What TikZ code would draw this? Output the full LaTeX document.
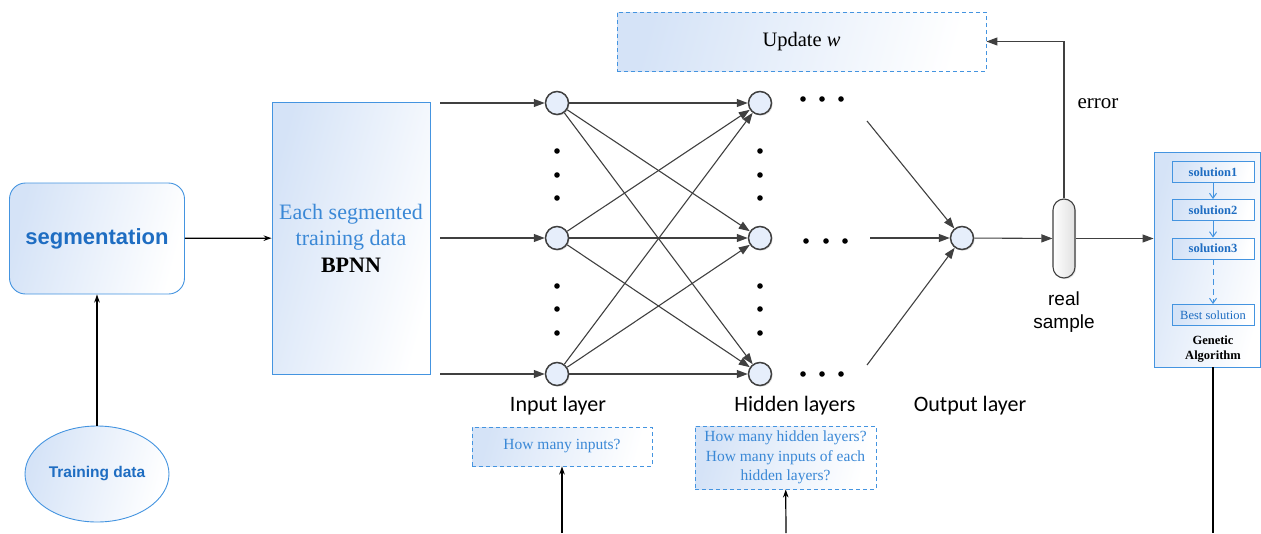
\documentclass[tikz,border=0pt]{standalone}
\usepackage{fontspec}
\setmainfont{Liberation Serif}
\newfontfamily\arialf{Liberation Sans}
\newfontfamily\calibrif{Carlito}
\usetikzlibrary{arrows.meta,shapes.geometric,shadows}
\definecolor{bborder}{HTML}{4494E0}
\definecolor{btext}{HTML}{1E6DC2}
\definecolor{btextl}{HTML}{3A88D6}
\definecolor{bfill}{HTML}{D5E3F7}
\definecolor{cfill}{HTML}{E6EEFB}
\definecolor{netc}{HTML}{404040}
\begin{document}
\begin{tikzpicture}[x=1pt,y=-1pt,
  bshade/.style={left color=bfill, middle color=white!70!bfill, right color=white, shading angle=75},
  bluebox/.style={draw=bborder, line width=0.9pt, bshade, inner sep=2pt},
  qbox/.style={bluebox, dashed, dash pattern=on 4pt off 3pt},
  neuron/.style={circle, draw=netc, line width=1.5pt, fill=cfill, minimum size=23pt, inner sep=0pt,
     drop shadow={shadow xshift=1.2pt, shadow yshift=-1.2pt, opacity=0.25}},
  net/.style={draw=netc, line width=1.1pt, -{Triangle[length=11pt,width=8pt]}},
  blk/.style={draw=black, line width=1.2pt, -{Stealth[length=8pt,width=5.5pt]}},
  sol/.style={draw=bborder, line width=0.9pt, bshade, minimum width=82pt, minimum height=21pt, inner sep=1pt,
     text=btext, font=\fontsize{12.5}{14}\selectfont\bfseries},
  solarr/.style={draw=bborder, line width=1pt, -{Straight Barb[length=5pt,width=7pt]}},
  layerlab/.style={font=\calibrif\fontsize{22}{26}\selectfont},
  dotc/.style={fill=black}
]
\useasboundingbox (0,0) rectangle (1261,533);

% left part
\node[bluebox, rounded corners=16pt, minimum width=175pt, minimum height=111pt,
      font=\arialf\bfseries\fontsize{22}{26}\selectfont, text=btext] (seg) at (97,238.5) {segmentation};
\node[bluebox, ellipse, minimum width=144pt, minimum height=96pt,
      font=\arialf\bfseries\fontsize{15.5}{18}\selectfont, text=btext] (td) at (97,474) {Training data};
\draw[blk] (td) -- (seg);
\node[bluebox, minimum width=158pt, minimum height=272pt, align=center,
      font=\fontsize{22}{26.5}\selectfont, text=btextl] (bpnn) at (351,238) {Each segmented\\training data\\\textcolor{black}{\textbf{BPNN}}};
\draw[blk] (seg) -- (bpnn);

% input and hidden nodes
\foreach \n/\y in {1/103,2/238,3/374}{
  \node[neuron] (i\n) at (557,\y) {};
  \node[neuron] (h\n) at (760,\y) {};
  \coordinate (f\n) at (440,\y);
  \draw[net] (f\n) -- (i\n);
}
\foreach \a in {1,2,3}{
  \foreach \b in {1,2,3}{
    \draw[net] (i\a) -- (h\b);
  }
}
% vertical dots
\foreach \x in {557,760}{
  \foreach \y in {151,175,198,286,309,333}{
    \fill[dotc] (\x,\y) circle (2.8pt);
  }
}
% horizontal dots
\foreach \x in {803,822,841}{
  \fill[dotc] (\x,99) circle (2.8pt);
  \fill[dotc] (\x,374) circle (2.8pt);
}
\foreach \x in {806,826,845}{
  \fill[dotc] (\x,241) circle (2.8pt);
}

% output
\node[neuron] (out) at (962,238) {};
\coordinate (o1) at (867,121);
\coordinate (o2) at (870,238);
\coordinate (o3) at (867,365);
\foreach \k in {1,2,3}{ \draw[net] (o\k) -- (out); }

% real sample
\node[draw=netc, line width=1.1pt, rounded corners=11pt, minimum width=22pt, minimum height=79pt,
      left color=white, right color=black!12, inner sep=0pt,
      drop shadow={shadow xshift=1.2pt, shadow yshift=-1.2pt, opacity=0.2}] (rs) at (1064,238.5) {};
\draw[net] (out) -- (rs);
\node[font=\arialf\fontsize{19}{23}\selectfont, align=center] (rslab) at (1064,312) {real\\sample};

% update w
\node[qbox, minimum width=369pt, minimum height=59pt, font=\fontsize{20.5}{24}\selectfont] (upd) at (801.5,41.5) {Update \textit{w}};
\draw[net] (rs.north) |- (upd.east);
\node[font=\fontsize{21}{25}\selectfont] (err) at (1098,104) {error};

% genetic algorithm
\node[bluebox, minimum width=106pt, minimum height=215pt] (ga) at (1207,259.5) {};
\draw[net] (rs.east) -- (rs.east -| ga.west);
\node[sol] (s1) at (1213,172) {solution1};
\node[sol] (s2) at (1213,210) {solution2};
\node[sol] (s3) at (1213,248.5) {solution3};
\node[sol, font=\fontsize{12.5}{14}\selectfont] (sb) at (1213,315) {Best solution};
\draw[solarr] (s1) -- (s2);
\draw[solarr] (s2) -- (s3);
\draw[solarr, dashed, dash pattern=on 6pt off 4pt] (s3) -- (sb);
\node[font=\fontsize{12.5}{15}\selectfont\bfseries, align=center] (galab) at (1213,349) {Genetic\\Algorithm};
\coordinate (gabot) at (1213,533);
\draw[black, line width=1.3pt] (gabot |- ga.south) -- (gabot);

% layer labels
\node[layerlab] (lin) at (558,406) {Input layer};
\node[layerlab] (lhid) at (795,406) {Hidden layers};
\node[layerlab] (lout) at (970,406) {Output layer};

% question boxes
\node[qbox, minimum width=180pt, minimum height=39pt, font=\fontsize{15.5}{19.5}\selectfont, text=btextl] (q1) at (562,446.5) {How many inputs?};
\coordinate (q1b) at (562,533);
\draw[blk] (q1b) -- (q1);
\node[qbox, minimum width=181pt, minimum height=63pt, align=center, font=\fontsize{15.5}{19.5}\selectfont, text=btextl] (q2) at (785.5,457.5) {How many hidden layers?\\How many inputs of each\\hidden layers?};
\coordinate (q2b) at (786,533);
\draw[blk] (q2b) -- (q2);
\end{tikzpicture}
\end{document}
